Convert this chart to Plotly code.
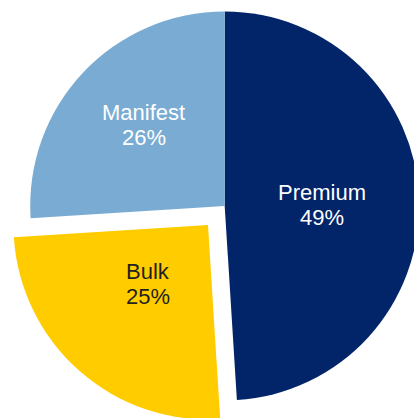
import math
import plotly.graph_objects as go

# Traffic mix by segment (share of total, %)
segments = ["Premium", "Bulk", "Manifest"]
shares = [49, 25, 26]
colors = ["#022469", "#FFCC00", "#7AACD3"]
text_colors = ["#FFFFFF", "#231F20", "#FFFFFF"]

# Canvas and pie geometry (pixels); the pie runs slightly past the page edge
W, H = 440, 440
CX, CY, R = 224.7, 206.0, 194.5
PULL = 0.13                      # Bulk is exploded out of the pie
pulled = {"Bulk"}
# label placement: fraction of the radius and a small turn (deg) off the bisector
label_radius = {"Premium": 0.50, "Bulk": 0.434, "Manifest": 0.59}
label_turn = {"Premium": 1.5, "Bulk": 3.8, "Manifest": 2.0}
FONT = "Liberation Sans, Arial, Helvetica, sans-serif"
FONT_SIZE = 22
LINE_PITCH = 25

total = float(sum(shares))
CLEAR = "rgba(0,0,0,0)"


def domain_for(cx, cy):
    """Paper-domain box that gives a pie of radius R centred at (cx, cy)."""
    return dict(x=[(cx - R) / W, (cx + R) / W],
                y=[1 - (cy + R) / H, 1 - (cy - R) / H])


# Mid-angle of every slice, clockwise from 12 o'clock
mid_angle = {}
start = 0.0
for name, v in zip(segments, shares):
    frac = v / total
    mid_angle[name] = (start + frac / 2) * 2 * math.pi
    start += frac

# Slice centres in screen pixels (exploded slices shift along their bisector)
centre = {}
for name in segments:
    a = mid_angle[name]
    off = PULL * R if name in pulled else 0.0
    centre[name] = (CX + off * math.sin(a), CY - off * math.cos(a))

fig = go.Figure()

# Main body of the pie
fig.add_trace(go.Pie(
    labels=segments, values=shares, sort=False, direction="clockwise", rotation=0,
    marker=dict(colors=[CLEAR if s in pulled else c for s, c in zip(segments, colors)],
                line=dict(width=0)),
    textinfo="none", hoverinfo="skip", domain=domain_for(CX, CY),
))

# Exploded slice(s)
for name in pulled:
    px, py = centre[name]
    fig.add_trace(go.Pie(
        labels=segments, values=shares, sort=False, direction="clockwise", rotation=0,
        marker=dict(colors=[c if s == name else CLEAR for s, c in zip(segments, colors)],
                    line=dict(width=0)),
        textinfo="none", hoverinfo="skip", domain=domain_for(px, py),
    ))

# Two-line slice labels: name above, share below
annotations = []
for name, v, tc in zip(segments, shares, text_colors):
    a = mid_angle[name] + math.radians(label_turn[name])
    sx, sy = centre[name]
    rr = label_radius[name] * R
    lx = sx + rr * math.sin(a)
    ly = sy - rr * math.cos(a)
    for line, dy in ((name, -LINE_PITCH / 2), (f"{v}%", LINE_PITCH / 2)):
        annotations.append(dict(
            x=lx / W, y=1 - (ly + dy) / H, xref="paper", yref="paper",
            text=line, showarrow=False, xanchor="center", yanchor="middle",
            font=dict(family=FONT, size=FONT_SIZE, color=tc),
        ))

fig.update_layout(
    width=W, height=H, autosize=False,
    margin=dict(l=0, r=0, t=0, b=0, pad=0),
    paper_bgcolor="white", plot_bgcolor="white",
    showlegend=False, annotations=annotations,
)

fig.write_html(
    "out.html",
    config={"displayModeBar": False, "staticPlot": True},
    post_script="document.documentElement.style.overflow='hidden';"
                "document.body.style.overflow='hidden';"
                "document.body.style.margin='0';",
)
